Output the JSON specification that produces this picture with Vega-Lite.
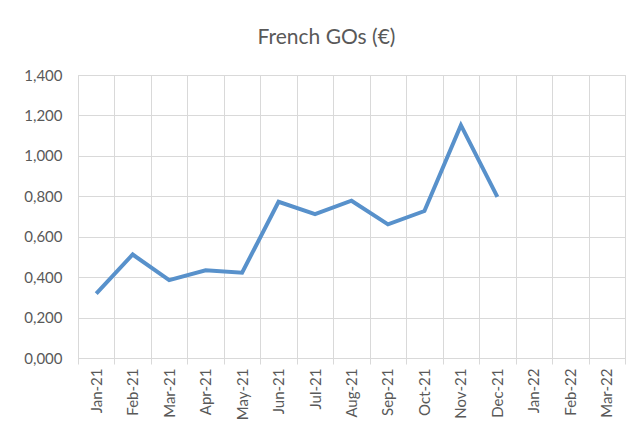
{
  "$schema": "https://vega.github.io/schema/vega-lite/v6.json",
  "width": 547,
  "height": 283,
  "autosize": {"type": "none"},
  "padding": {"left": 78, "top": 75, "right": 15, "bottom": 79},
  "background": "white",
  "title": {
    "text": "French GOs (€)",
    "font": "Lato",
    "fontSize": 21,
    "fontWeight": "normal",
    "color": "#595959",
    "anchor": "middle",
    "dx": -25,
    "offset": 20
  },
  "data": {
    "values": [
      {"month": "Jan-21", "price": 0.319},
      {"month": "Feb-21", "price": 0.512},
      {"month": "Mar-21", "price": 0.385},
      {"month": "Apr-21", "price": 0.434},
      {"month": "May-21", "price": 0.422},
      {"month": "Jun-21", "price": 0.773},
      {"month": "Jul-21", "price": 0.712},
      {"month": "Aug-21", "price": 0.778},
      {"month": "Sep-21", "price": 0.661},
      {"month": "Oct-21", "price": 0.727},
      {"month": "Nov-21", "price": 1.152},
      {"month": "Dec-21", "price": 0.797},
      {"month": "Jan-22", "price": null},
      {"month": "Feb-22", "price": null},
      {"month": "Mar-22", "price": null}
    ]
  },
  "mark": {"type": "line", "color": "#5891cb", "strokeWidth": 4, "strokeJoin": "miter", "strokeCap": "butt"},
  "encoding": {
    "x": {
      "field": "month",
      "type": "ordinal",
      "sort": null,
      "scale": {"type": "band", "paddingInner": 0, "paddingOuter": 0},
      "axis": {
        "title": null,
        "tickBand": "extent",
        "grid": true,
        "gridColor": "#d9d9d9",
        "gridWidth": 1,
        "domainColor": "#d9d9d9",
        "tickColor": "#d9d9d9",
        "tickSize": 6,
        "labelAngle": -90,
        "labelAlign": "right",
        "labelBaseline": "middle",
        "labelPadding": 4,
        "labelFont": "Lato",
        "labelFontSize": 15,
        "labelColor": "#595959"
      }
    },
    "y": {
      "field": "price",
      "type": "quantitative",
      "scale": {"domain": [0, 1.4], "nice": false},
      "axis": {
        "title": null,
        "values": [0, 0.2, 0.4, 0.6, 0.8, 1.0, 1.2, 1.4],
        "labelExpr": "replace(format(datum.value, '.3f'), '.', ',')",
        "grid": true,
        "gridColor": "#d9d9d9",
        "gridWidth": 1,
        "domain": false,
        "ticks": false,
        "labelPadding": 16,
        "labelFont": "Lato",
        "labelFontSize": 15,
        "labelColor": "#595959"
      }
    }
  },
  "config": {
    "view": {"stroke": "#d9d9d9"}
  }
}
